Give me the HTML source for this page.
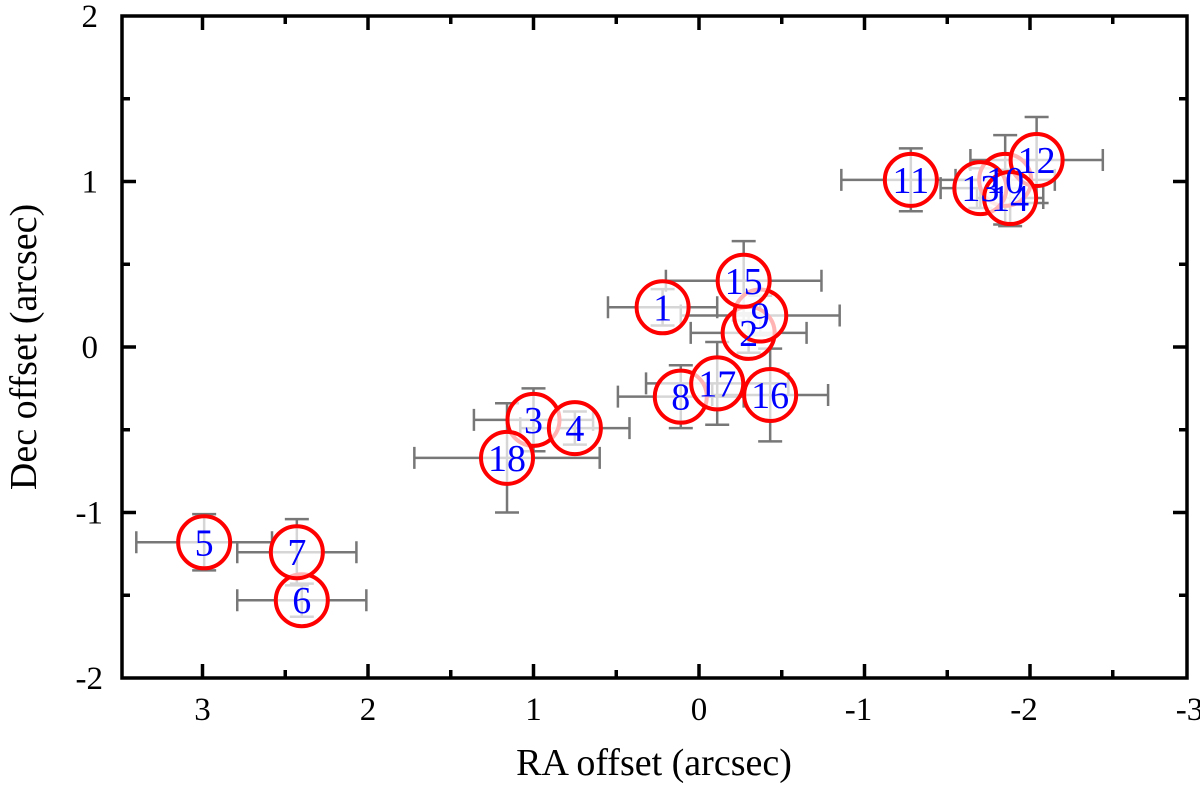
<!DOCTYPE html>
<html><head><meta charset="utf-8"><style>
body{margin:0;background:#fff}
svg{display:block;font-family:"Liberation Serif",serif}
</style></head><body>
<svg id="chart" width="1200" height="800"></svg>
<script>
const labels=["1","2","3","4","5","6","7","8","9","10","11","12","13","14","15","16","17","18"];
const ra=[0.22,-0.30,1.00,0.75,2.99,2.40,2.43,0.11,-0.37,-1.85,-1.28,-2.04,-1.70,-1.88,-0.27,-0.43,-0.11,1.16];
const dec=[0.24,0.085,-0.44,-0.49,-1.18,-1.53,-1.24,-0.30,0.19,1.01,1.01,1.13,0.96,0.90,0.40,-0.29,-0.22,-0.67];
const raErr=[0.33,0.35,0.36,0.33,0.41,0.39,0.36,0.38,0.48,0.30,0.42,0.40,0.24,0.20,0.47,0.35,0.43,0.56];
const decErr=[0.11,0.12,0.19,0.10,0.17,0.10,0.20,0.19,0.12,0.27,0.19,0.26,0.12,0.17,0.24,0.28,0.25,0.33];
const xTicks=[3,2,1,0,-1,-2,-3];
const yTicks=[2,1,0,-1,-2];
const L=122,R=1187,T=16,B=678;
const sx=v=>699-v*165.5, sy=v=>347-v*165.5;
const svg=document.getElementById('chart');
const NS='http://www.w3.org/2000/svg';
function mk(tag,at,parent){const e=document.createElementNS(NS,tag);for(const k in at)e.setAttribute(k,at[k]);(parent||svg).appendChild(e);return e;}
const tg=mk('g',{stroke:'#000','stroke-width':3.5});


for(let v=-3;v<=3.01;v+=0.5){const x=sx(v);if(x<L+2||x>R-2)continue;const len=Math.abs(v%1)<0.01?14:8;
mk('line',{x1:x,y1:B,x2:x,y2:B-len},tg);mk('line',{x1:x,y1:T,x2:x,y2:T+len},tg);}
for(let v=-2;v<=2.01;v+=0.5){const y=sy(v);if(y<T+2||y>B-2)continue;const len=Math.abs(v%1)<0.01?14:8;
mk('line',{x1:L,y1:y,x2:L+len,y2:y},tg);mk('line',{x1:R,y1:y,x2:R-len,y2:y},tg);}
xTicks.forEach(v=>{const t=mk('text',{x:sx(v)-(v<0?6:0),y:720,'font-size':33,'text-anchor':'middle'});t.textContent=v;
});
yTicks.forEach(v=>{const t=mk('text',{x:v<0?103:98,y:sy(v)+11,'font-size':33,'text-anchor':'end'});t.textContent=v;
});
const xt=mk('text',{x:654,y:775,'font-size':38,'text-anchor':'middle'});xt.textContent='RA offset (arcsec)';

const yt=mk('text',{x:0,y:0,'font-size':38,'text-anchor':'middle',transform:'translate(36,347) rotate(-90)'});yt.textContent='Dec offset (arcsec)';

const eg=mk('g',{stroke:'#777','stroke-width':2.5,fill:'none'});


ra.forEach((v,i)=>{const x=sx(v),y=sy(dec[i]);const x1=sx(v+raErr[i]),x2=sx(v-raErr[i]),y1=sy(dec[i]+decErr[i]),y2=sy(dec[i]-decErr[i]);
mk('path',{d:`M${x1},${y}H${x2}M${x1},${y-11}V${y+11}M${x2},${y-11}V${y+11}M${x},${y1}V${y2}M${x-12},${y1}H${x+12}M${x-12},${y2}H${x+12}`},eg);});
ra.forEach((v,i)=>{const g=mk('g',{});


mk('circle',{cx:sx(v),cy:sy(dec[i]),r:26,fill:'rgba(255,255,255,0.7)',stroke:'#f00','stroke-width':4},g);});
ra.forEach((v,i)=>{const t=mk('text',{x:sx(v),y:sy(dec[i])+13,'font-size':38,fill:'#00f','text-anchor':'middle'});t.textContent=labels[i];
});
const fr=mk('rect',{x:L,y:T,width:R-L,height:B-T,fill:'none',stroke:'#000','stroke-width':3.5});

</script>
</body></html>
